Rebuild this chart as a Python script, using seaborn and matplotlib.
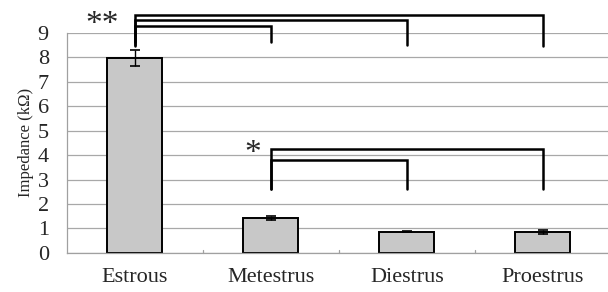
import pandas as pd
import matplotlib
matplotlib.use('Agg')
import matplotlib.pyplot as plt
import seaborn as sns

# data
stages = ['Estrous', 'Metestrus', 'Diestrus', 'Proestrus']
impedance = [7.97, 1.41, 0.87, 0.85]
sem = [0.33, 0.08, 0.03, 0.08]

# significance brackets: (from, to, line level, drop level)
sig_double = [(0, 1, 9.30, 8.62), (0, 2, 9.52, 8.50), (0, 3, 9.75, 8.45)]
sig_single = [(1, 2, 3.80, 2.62), (1, 3, 4.26, 2.62)]

df = pd.DataFrame({'stage': stages, 'impedance': impedance})

sns.set_style('white')
plt.rcParams['font.family'] = ['Liberation Serif', 'DejaVu Serif']

fig = plt.figure(figsize=(6.08, 2.92), dpi=100)
ax = fig.add_axes([0.110, 0.134, 0.89, 0.753])

sns.barplot(data=df, x='stage', y='impedance', color='#c8c8c8', edgecolor='black',
            linewidth=1.4, width=0.405, errorbar=None, saturation=1, ax=ax)
ax.errorbar(range(len(stages)), impedance, yerr=sem, fmt='none', ecolor='black',
            elinewidth=1.0, capsize=3.5, capthick=1.2, zorder=5)

ax.set_ylim(0, 9)
ax.set_xlim(-0.5, 3.48)
ax.set_yticks(range(0, 10))
ax.yaxis.grid(True, color='#a8a8a8', linewidth=0.9)
ax.set_axisbelow(True)
for s in ['top', 'right']:
    ax.spines[s].set_visible(False)
for s in ['left', 'bottom']:
    ax.spines[s].set_color('#a0a0a0')
    ax.spines[s].set_linewidth(0.9)

ax.tick_params(axis='y', length=0, labelsize=16, pad=13)
ax.tick_params(axis='x', length=0, labelsize=16, pad=11)
ax.set_xlabel('')
ax.set_ylabel('Impedance (kΩ)', fontsize=12, labelpad=3)

# small gray ticks on the category boundaries
for b in [0.5, 1.5, 2.5]:
    ax.plot([b, b], [0, 0.12], color='#a0a0a0', linewidth=0.9, clip_on=False)

def bracket(i, j, level, drop):
    ax.plot([i, i, j, j], [drop, level, level, drop], color='black',
            linewidth=1.8, clip_on=False, solid_joinstyle='miter', zorder=6)

for i, j, level, drop in sig_double:
    bracket(i, j, level, drop)
for i, j, level, drop in sig_single:
    bracket(i, j, level, drop)

ax.text(-0.24, 9.35, '**', fontsize=24, ha='center', va='center')
ax.text(0.87, 4.05, '*', fontsize=24, ha='center', va='center')

fig.savefig('out.png', dpi=100)
